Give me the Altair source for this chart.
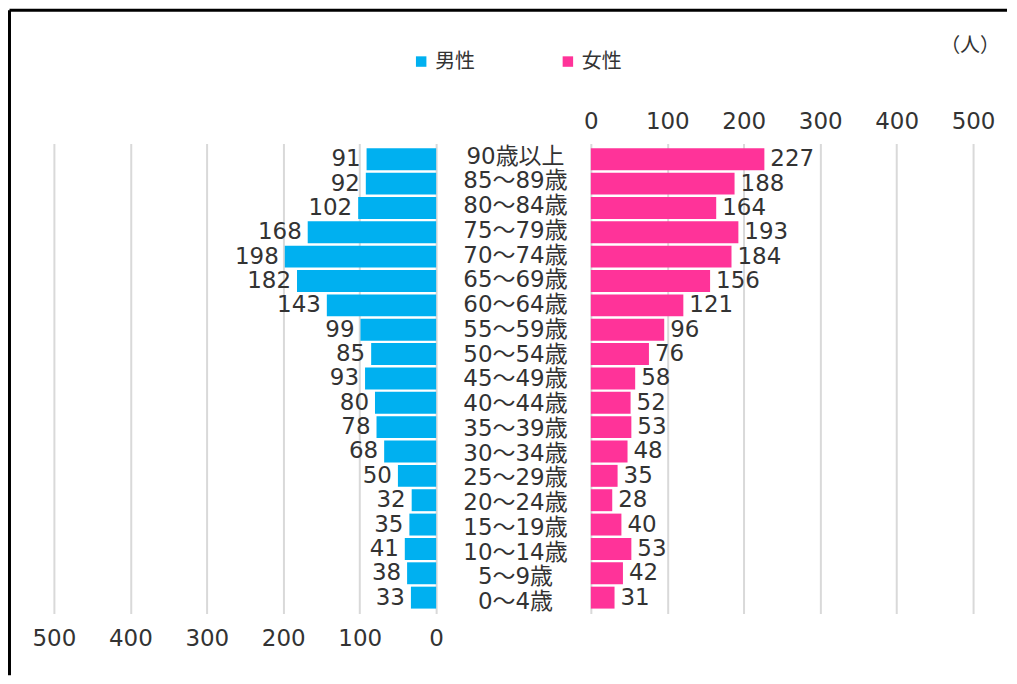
import altair as alt
import pandas as pd

ages = ["90歳以上", "85～89歳", "80～84歳", "75～79歳", "70～74歳", "65～69歳",
        "60～64歳", "55～59歳", "50～54歳", "45～49歳", "40～44歳", "35～39歳",
        "30～34歳", "25～29歳", "20～24歳", "15～19歳", "10～14歳", "5～9歳", "0～4歳"]
male = [91, 92, 102, 168, 198, 182, 143, 99, 85, 93, 80, 78, 68, 50, 32, 35, 41, 38, 33]
female = [227, 188, 164, 193, 184, 156, 121, 96, 76, 58, 52, 53, 48, 35, 28, 40, 53, 42, 31]
series = ["男性", "女性"]
colors = ["#00B0F0", "#FF3399"]
ticks = [0, 100, 200, 300, 400, 500]
unit_label = ["（人）"]

FONT = "DejaVu Sans, Noto Sans CJK JP"
TXT = "#333333"
W, H, MID = 383, 471, 155

male_df = pd.DataFrame({"age": ages, "value": male, "sex": series[0]})
female_df = pd.DataFrame({"age": ages, "value": female, "sex": series[1]})
age_df = pd.DataFrame({"age": ages})
unit_df = pd.DataFrame({"t": unit_label})
frame_df = pd.DataFrame({"k": [0]})

yenc = alt.Y("age:N", sort=ages, axis=None,
             scale=alt.Scale(paddingInner=0.1, paddingOuter=0.2))
color = alt.Color("sex:N", scale=alt.Scale(domain=series, range=colors),
                  legend=alt.Legend(orient="none", direction="horizontal",
                                    legendX=358, legendY=-92, title=None,
                                    symbolType="square", symbolSize=110,
                                    symbolStrokeWidth=0, columnPadding=83,
                                    labelFont=FONT, labelFontSize=20,
                                    labelColor=TXT, labelOffset=4))

def xaxis(orient, pad):
    return alt.Axis(orient=orient, values=ticks, grid=True, ticks=False, domain=False,
                    title=None, labelFontSize=23, labelFont=FONT, labelColor=TXT,
                    labelFlush=False, labelOverlap=False,
                    gridColor="#D9D9D9", gridWidth=2, labelPadding=pad)

left_base = alt.Chart(male_df)
left_bars = left_base.mark_bar().encode(
    x=alt.X("value:Q", scale=alt.Scale(domain=[0, 500], reverse=True), axis=xaxis("bottom", 14)),
    y=yenc, color=color)
left_text = left_base.mark_text(align="right", baseline="middle", dx=-6,
                                font=FONT, fontSize=23, color=TXT).encode(
    x="value:Q", y=alt.Y("age:N", sort=ages), text="value:Q")
frame_top = alt.Chart(frame_df).mark_rule(color="black", strokeWidth=3).encode(
    x=alt.value(-44.5), x2=alt.value(955), y=alt.value(-133.5))
frame_left = alt.Chart(frame_df).mark_rule(color="black", strokeWidth=3).encode(
    x=alt.value(-44.5), y=alt.value(-133.5), y2=alt.value(533))
left = alt.layer(left_bars, left_text, frame_top, frame_left).properties(width=W, height=H)

mid = alt.Chart(age_df).mark_text(align="center", baseline="middle", font=FONT,
                                   fontSize=23, color=TXT, dy=1).encode(
    x=alt.value(MID / 2 + 2), y=yenc, text="age:N").properties(width=MID, height=H)

right_base = alt.Chart(female_df)
right_bars = right_base.mark_bar().encode(
    x=alt.X("value:Q", scale=alt.Scale(domain=[0, 500]), axis=xaxis("top", 10)),
    y=yenc, color=color)
right_text = right_base.mark_text(align="left", baseline="middle", dx=6,
                                  font=FONT, fontSize=23, color=TXT).encode(
    x="value:Q", y=alt.Y("age:N", sort=ages), text="value:Q")
unit = alt.Chart(unit_df).mark_text(align="center", baseline="middle", font=FONT,
                                    fontSize=20, color=TXT).encode(
    x=alt.value(380), y=alt.value(-98), text="t:N")
right = alt.layer(right_bars, right_text, unit).properties(width=W, height=H)

chart = alt.hconcat(left, mid, right, spacing=0, bounds="flush").properties(
    padding=0
).configure(background="white").configure_view(stroke=None)

chart.save("out.html", embed_options={"renderer": "svg", "actions": False})
